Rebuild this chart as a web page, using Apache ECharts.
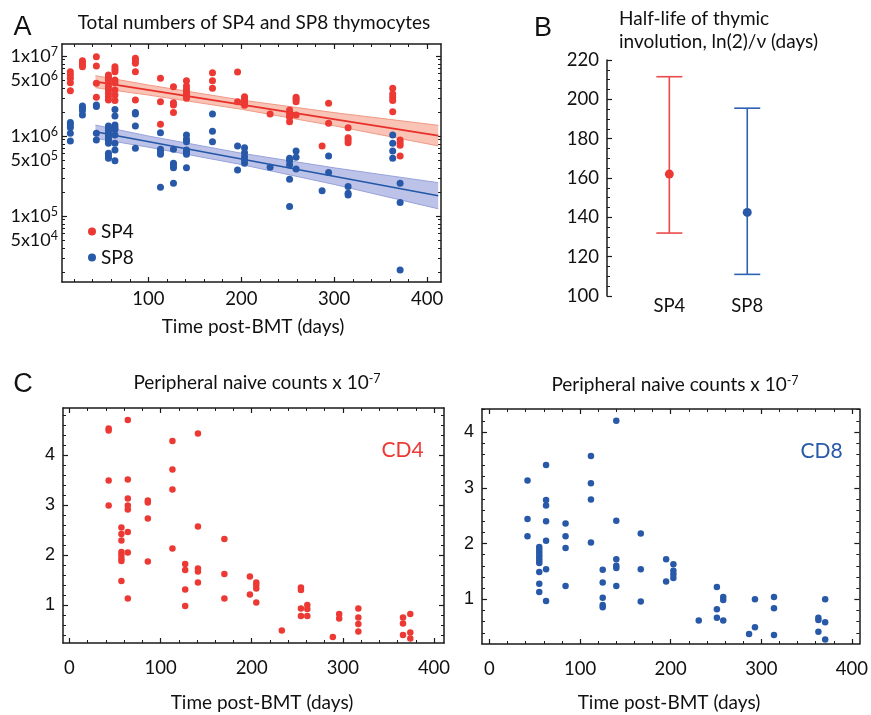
<!DOCTYPE html>
<html><head><meta charset="utf-8">
<script src="https://cdn.jsdelivr.net/npm/echarts@6/dist/echarts.min.js"></script>
<style>html,body{margin:0;padding:0;background:#fff}#c{width:871px;height:715px}</style>
</head><body><div id="c"></div>
<script>
// ---------------- DATA ----------------
// Panel A: total SP4 / SP8 thymocytes  [day, count]
const sp4Points = [
 [16,6.37e6],[16,5.79e6],[16,5.26e6],[16,4.64e6],[16,3.69e6],
 [29,8.75e6],[29,8.26e6],[29,7.8e6],[29,7.36e6],
 [44,9.8e6],[44,7.5e6],[44,4.55e6],[44,3.04e6],
 [57,5.79e6],[57,5.41e6],[57,5.01e6],[57,4.55e6],[57,4.14e6],[57,3.76e6],[57,3.42e6],[57,3.1e6],[57,2.82e6],
 [64,7.36e6],[64,6.81e6],[64,6.37e6],[64,5.01e6],[64,4.64e6],[64,3.76e6],[64,3.25e6],[64,2.77e6],
 [86,9.35e6],[86,8.75e6],[86,8.1e6],[86,6.37e6],[86,2.82e6],
 [113,5.26e6],[113,2.68e6],[113,1.4e6],
 [127,4.14e6],[127,2.61e6],[127,2.44e6],[127,1.96e6],
 [141,4.92e6],[141,4.22e6],[141,3.83e6],[141,3.58e6],[141,3.35e6],[141,3.16e6],[141,2.96e6],
 [169,6.19e6],[169,4.92e6],[169,3.94e6],
 [196,6.31e6],[196,2.68e6],
 [203.5,3.1e6],[203.5,2.9e6],[203.5,2.74e6],[203.5,2.56e6],[203.5,2.42e6],
 [231,1.88e6],
 [252,2.11e6],[252,1.98e6],[252,1.83e6],[252,1.71e6],[252,1.51e6],
 [259,3.04e6],[259,2.87e6],[259,2.68e6],[259,1.83e6],
 [287,7.5e5],
 [294,2.56e6],[294,1.44e6],
 [315,1.27e6],[315,9.53e5],[315,8.91e5],[315,8.26e5],
 [363,3.94e6],[363,3.35e6],[363,3.04e6],[363,2.77e6],[363,2.01e6],
 [371,8.91e5],[371,8.26e5],[371,7.64e5],[371,5.62e5]
];
const sp8Points = [
 [16,1.47e6],[16,1.37e6],[16,1.28e6],[16,1.08e6],[16,8.66e5],
 [29,2.37e6],[29,2.22e6],[29,2.07e6],[29,1.83e6],
 [44,2.44e6],[44,2.33e6],[44,1.08e6],[44,8.91e5],
 [57,1.33e6],[57,1.25e6],[57,1.17e6],[57,1.08e6],[57,1.0e6],[57,9.35e5],[57,8.66e5],[57,8.1e5],[57,6.07e5],[57,5.62e5],[57,5.26e5],
 [64,2.15e6],[64,1.78e6],[64,1.37e6],[64,1.28e6],[64,1.21e6],[64,1.03e6],[64,8.1e5],[64,6.68e5],[64,4.92e5],
 [86,1.96e6],[86,1.88e6],[86,1.33e6],[86,7.01e5],
 [113,1.1e6],[113,6.81e5],[113,6.37e5],[113,5.9e5],[113,2.28e5],
 [127,6.81e5],[127,4.55e5],[127,4.26e5],[127,4.02e5],[127,2.56e5],
 [141,1.03e6],[141,9.08e5],[141,8.49e5],[141,6.68e5],[141,6.25e5],[141,5.9e5],[141,4.02e5],
 [169,1.88e6],[169,1.15e6],[169,8.49e5],
 [196,7.5e5],[196,3.76e5],
 [203.5,7.15e5],[203.5,6.19e5],[203.5,5.52e5],[203.5,5.01e5],[203.5,4.55e5],
 [231,4.06e5],
 [252,5.26e5],[252,4.92e5],[252,4.34e5],[252,2.87e5],[252,1.31e5],
 [259,6.49e5],[259,5.41e5],[259,3.87e5],
 [287,2.07e5],
 [294,5.62e5],[294,3.51e5],
 [315,2.33e5],[315,1.92e5],[315,1.83e5],
 [363,1.03e6],[363,8.1e5],[363,6.49e5],[363,5.26e5],
 [371,2.56e5],[371,1.48e5],[371,2.11e4]
];
const sp4Fit = [[43,4.78e6],[412,1.01e6]];
const sp8Fit = [[43,1.13e6],[412,1.79e5]];
const bandDays  = [43, 100, 200, 300, 412];
const sp4BandHi = [5.68e6, 4.34e6, 2.82e6, 1.96e6, 1.36e6];
const sp4BandLo = [4.02e6, 3.25e6, 2.16e6, 1.34e6, 7.52e5];
const sp8BandHi = [1.37e6, 1.0e6, 6.1e5, 4.0e5, 2.61e5];
const sp8BandLo = [9.35e5, 7.25e5, 4.4e5, 2.48e5, 1.23e5];
const xTicksA = [100, 200, 300, 400];
const yTickValuesA = [1e7, 5e6, 1e6, 5e5, 1e5, 5e4];
const yTickTextA = [['1x10','7'],['5x10','6'],['1x10','6'],['5x10','5'],['1x10','5'],['5x10','4']];

// Panel B: half-life of thymic involution
const halfLifeCats = ['SP4', 'SP8'];
const halfLifeEst  = [162, 142.5];
const halfLifeLo   = [132, 111];
const halfLifeHi   = [211.5, 195.5];

// Panel C: peripheral naive counts x 1e-7  [day, count]
const cd4Points = [
 [43,4.53],[43,4.49],[43,3.49],[43,2.99],
 [57,2.55],[57,2.42],[57,2.29],[57,2.06],[57,2.0],[57,1.93],[57,1.88],[57,1.48],
 [64,4.7],[64,3.51],[64,3.13],[64,2.99],[64,2.91],[64,2.46],[64,2.05],[64,1.13],
 [86,3.09],[86,3.05],[86,2.73],[86,1.87],
 [113,4.28],[113,3.71],[113,3.31],[113,2.13],
 [127,1.82],[127,1.70],[127,1.31],[127,0.98],
 [141,4.43],[141,2.57],[141,1.73],[141,1.67],[141,1.45],
 [170,2.32],[170,1.62],[170,1.13],
 [198,1.57],[198,1.21],
 [205,1.45],[205,1.4],[205,1.33],[205,1.05],
 [233,0.49],
 [254,1.35],[254,1.3],[254,0.93],[254,0.78],
 [261,1.0],[261,0.92],[261,0.78],
 [289,0.36],
 [296,0.82],[296,0.73],
 [317,0.93],[317,0.75],[317,0.62],[317,0.47],
 [366,0.75],[366,0.63],[366,0.4],
 [374,0.82],[374,0.45],[374,0.33]
];
const cd8Points = [
 [42,3.13],[42,2.44],[42,2.13],
 [55,1.94],[55,1.89],[55,1.84],[55,1.79],[55,1.74],[55,1.69],[55,1.65],[55,1.49],[55,1.28],[55,1.13],
 [62.5,3.41],[62.5,2.78],[62.5,2.68],[62.5,2.4],[62.5,2.05],[62.5,1.54],[62.5,0.97],
 [84,2.36],[84,2.13],[84,1.92],[84,1.24],
 [112,3.57],[112,3.08],[112,2.79],[112,2.02],
 [125,1.53],[125,1.3],[125,1.03],[125,0.9],[125,0.86],
 [140,4.2],[140,2.41],[140,1.72],[140,1.6],[140,1.56],[140,1.24],
 [167,2.18],[167,1.54],[167,0.96],
 [195,1.72],[195,1.32],
 [203,1.63],[203,1.51],[203,1.45],[203,1.38],
 [231,0.62],
 [251,1.22],[251,0.82],[251,0.67],
 [258,1.04],[258,0.99],[258,0.62],
 [286.5,0.38],
 [293,1.0],[293,0.5],
 [314,1.04],[314,0.84],[314,0.36],
 [363,0.67],[363,0.63],[363,0.42],
 [370.5,1.0],[370.5,0.59],[370.5,0.28]
];
const xTicksC = [0, 100, 200, 300, 400];
const yTicksC = [1, 2, 3, 4];

// ---------------- CHART ----------------
const RED = '#EC3934', BLUE = '#2859A8', INK = '#1a1a1a', TXT = '#111';
const L = v => Math.log10(v);
const chart = echarts.init(document.getElementById('c'), null, {renderer: 'canvas'});

function steps(a, b, s, skip) {
  const out = [];
  for (let v = a; v <= b + 1e-9; v += s) {
    const r = Math.round(v * 1000) / 1000;
    if (!skip || !skip.some(t => Math.abs(t - r) < 1e-9)) out.push(r);
  }
  return out;
}
const xAxes = [], yAxes = [];
function side(list, gi, pos, min, max, majors, minors, label) {
  const main = {
    type: 'value', gridIndex: gi, position: pos, min, max,
    axisLine: {show: true, onZero: false, lineStyle: {color: INK, width: 1.5}},
    axisTick: {show: true, inside: true, length: 5, customValues: majors, lineStyle: {color: INK, width: 1.2}},
    axisLabel: label ? Object.assign({show: true}, label) : {show: false},
    splitLine: {show: false}
  };
  list.push(main);
  const idx = list.length - 1;
  if (minors && minors.length) list.push({
    type: 'value', gridIndex: gi, position: pos, min, max,
    axisLine: {show: false, onZero: false},
    axisTick: {show: true, inside: true, length: 3, customValues: minors, lineStyle: {color: INK, width: 1}},
    axisLabel: {show: false}, splitLine: {show: false}
  });
  return idx;
}
const numLabel = (size, margin) => ({fontFamily: 'Lato', fontSize: size, color: TXT, margin});

// Panel A axes (grid 0)
const aXmin = 7, aXmax = 415, aYmin = 4.175, aYmax = 7.15;
const aXminor = steps(20, 400, 20, xTicksA);
const aYmajor = [5, 6, 7];
const aYminor = [];
for (let n = 4; n <= 7; n++) for (let k = 2; k <= 9; k++) { const v = L(k * Math.pow(10, n)); if (v > aYmin && v < aYmax) aYminor.push(v); }
const axAx = side(xAxes, 0, 'bottom', aXmin, aXmax, xTicksA, aXminor,
  Object.assign(numLabel(18.5, 8), {customValues: xTicksA}));
side(xAxes, 0, 'top', aXmin, aXmax, xTicksA, aXminor, null);
const axAy = side(yAxes, 0, 'left', aYmin, aYmax, aYmajor, aYminor, {
  customValues: yTickValuesA.map(L), margin: 4,
  formatter: val => {
    const i = yTickValuesA.findIndex(t => Math.abs(L(t) - val) < 1e-6);
    return i < 0 ? '' : '{b|' + yTickTextA[i][0] + '}{s|' + yTickTextA[i][1] + '}';
  },
  rich: {
    b: {fontFamily: 'Lato', fontSize: 18, color: TXT, lineHeight: 21},
    s: {fontFamily: 'Lato', fontSize: 12.5, color: TXT, lineHeight: 12, verticalAlign: 'top'}
  }
});
side(yAxes, 0, 'right', aYmin, aYmax, aYmajor, aYminor, null);

// Panel B axes (grid 1)
xAxes.push({type: 'value', gridIndex: 1, min: 0.2, max: 2.6, position: 'bottom',
  axisLine: {show: false, onZero: false}, axisTick: {show: false}, splitLine: {show: false},
  axisLabel: Object.assign(numLabel(18.5, 1), {customValues: [1, 2], formatter: v => halfLifeCats[Math.round(v) - 1]})});
const axBx = xAxes.length - 1;
yAxes.push({type: 'value', gridIndex: 1, min: 100, max: 220, interval: 20, position: 'left',
  axisLine: {show: true, onZero: false, lineStyle: {color: INK, width: 1.5}},
  axisTick: {show: true, inside: true, length: 5, lineStyle: {color: INK, width: 1.2}},
  minorTick: {show: true, splitNumber: 4, length: 3, lineStyle: {color: INK, width: 1}},
  axisLabel: numLabel(18.5, 8), splitLine: {show: false}, minorSplitLine: {show: false}});
const axBy = yAxes.length - 1;

// Panel C axes (grids 2,3)
function panelC(gi, xmin, xmax, ymin, ymax) {
  const xm = steps(20, 400, 20, xTicksC);
  const ym = steps(0.2, 4.8, 0.2, yTicksC).filter(v => v > ymin + 0.01 && v < ymax - 0.01);
  const xi = side(xAxes, gi, 'bottom', xmin, xmax, xTicksC, xm, Object.assign(numLabel(18.5, 16), {customValues: xTicksC}));
  side(xAxes, gi, 'top', xmin, xmax, xTicksC, xm, null);
  const yi = side(yAxes, gi, 'left', ymin, ymax, yTicksC, ym,
    Object.assign({fontFamily: 'Liberation Sans', fontSize: 18, color: TXT, margin: 8}, {customValues: yTicksC}));
  side(yAxes, gi, 'right', ymin, ymax, yTicksC, ym, null);
  return [xi, yi];
}
const [axC1x, axC1y] = panelC(2, -7.1, 411, 0.24, 4.94);
const [axC2x, axC2y] = panelC(3, -8.2, 408.2, 0.199, 4.412);

const logPts = arr => arr.map(p => [p[0], L(p[1])]);
// confidence band drawn as one polygon through the axis scales
const bandSeries = (lo, hi, edge, fill) => ({
  type: 'custom', xAxisIndex: axAx, yAxisIndex: axAy, silent: true, z: 1,
  data: [[bandDays[0], L(lo[0])]],
  renderItem: (params, api) => {
    const up = bandDays.map((d, i) => api.coord([d, L(hi[i])]));
    const dn = bandDays.map((d, i) => api.coord([d, L(lo[i])]));
    return {type: 'group', children: [
      {type: 'polygon', shape: {points: up.concat(dn.slice().reverse())}, style: {fill: fill, stroke: null}},
      {type: 'polyline', shape: {points: up}, style: {stroke: edge, lineWidth: 1, fill: null}},
      {type: 'polyline', shape: {points: dn}, style: {stroke: edge, lineWidth: 1, fill: null}}
    ]};
  }
});

const series = [
  bandSeries(sp4BandLo, sp4BandHi, '#F09A86', '#F9C3B5'),
  bandSeries(sp8BandLo, sp8BandHi, '#97A2DA', '#BDC3E8'),
  {type: 'line', xAxisIndex: axAx, yAxisIndex: axAy, data: logPts(sp4Fit), symbol: 'none', z: 2,
   lineStyle: {color: '#E8302A', width: 1.6}},
  {type: 'line', xAxisIndex: axAx, yAxisIndex: axAy, data: logPts(sp8Fit), symbol: 'none', z: 2,
   lineStyle: {color: '#2257A8', width: 1.6}},
  {type: 'scatter', name: 'SP4', xAxisIndex: axAx, yAxisIndex: axAy, data: logPts(sp4Points), symbolSize: 7,
   itemStyle: {color: RED, opacity: 1}, z: 3},
  {type: 'scatter', name: 'SP8', xAxisIndex: axAx, yAxisIndex: axAy, data: logPts(sp8Points), symbolSize: 7,
   itemStyle: {color: BLUE, opacity: 1}, z: 3},
  // Panel B
  {type: 'custom', xAxisIndex: axBx, yAxisIndex: axBy,
   data: halfLifeCats.map((c, i) => [i + 1, halfLifeLo[i], halfLifeHi[i]]),
   renderItem: (params, api) => {
     const x = api.value(0);
     const lo = api.coord([x, api.value(1)]), hi = api.coord([x, api.value(2)]);
     const col = params.dataIndex === 0 ? '#EA4A4A' : '#2E62B2';
     const st = {stroke: col, lineWidth: 1.6};
     const w = 13;
     return {type: 'group', children: [
       {type: 'line', shape: {x1: lo[0], y1: lo[1], x2: hi[0], y2: hi[1]}, style: st},
       {type: 'line', shape: {x1: lo[0] - w, y1: lo[1], x2: lo[0] + w, y2: lo[1]}, style: st},
       {type: 'line', shape: {x1: hi[0] - w, y1: hi[1], x2: hi[0] + w, y2: hi[1]}, style: st}
     ]};
   }},
  {type: 'scatter', xAxisIndex: axBx, yAxisIndex: axBy, symbolSize: 9, z: 3,
   data: halfLifeCats.map((c, i) => ({value: [i + 1, halfLifeEst[i]], itemStyle: {color: i === 0 ? RED : BLUE, opacity: 1}}))},
  // Panel C
  {type: 'scatter', xAxisIndex: axC1x, yAxisIndex: axC1y, data: cd4Points, symbolSize: 6.5, itemStyle: {color: RED, opacity: 1}},
  {type: 'scatter', xAxisIndex: axC2x, yAxisIndex: axC2y, data: cd8Points, symbolSize: 6.5, itemStyle: {color: BLUE, opacity: 1}}
];

const txt = (x, y, text, size, opts) => Object.assign({
  type: 'text', x, y, silent: true,
  style: Object.assign({text, fontFamily: 'Lato', fontSize: size, fill: TXT, align: 'center', verticalAlign: 'middle'}, opts || {})
});
const supRich = {
  a: {fontFamily: 'Lato', fontSize: 19, fill: TXT, color: TXT, lineHeight: 22},
  s: {fontFamily: 'Lato', fontSize: 12.5, fill: TXT, color: TXT, lineHeight: 12, verticalAlign: 'top'}
};

chart.setOption({
  animation: false,
  backgroundColor: '#fff',
  grid: [
    {left: 62, top: 44, width: 379, height: 238},
    {left: 607, top: 60, width: 187, height: 236},
    {left: 63, top: 408, width: 381, height: 235},
    {left: 482, top: 409, width: 381, height: 235}
  ],
  xAxis: xAxes,
  yAxis: yAxes,
  legend: {data: ['SP4', 'SP8'], orient: 'vertical', left: 83, top: 217, itemWidth: 8, itemHeight: 8, itemGap: 7,
    selectedMode: false, textStyle: {fontFamily: 'Lato', fontSize: 19, color: TXT}},
  series,
  graphic: [
    txt(22.5, 28, 'A', 27, {fontFamily: 'Liberation Sans'}),
    txt(543, 29, 'B', 27, {fontFamily: 'Liberation Sans'}),
    txt(23, 385, 'C', 27, {fontFamily: 'Liberation Sans'}),
    txt(254, 23, 'Total numbers of SP4 and SP8 thymocytes', 19),
    txt(619, 19, 'Half-life of thymic', 19, {align: 'left'}),
    txt(619, 42, 'involution, ln(2)/\u03BD (days)', 19, {align: 'left'}),
    txt(253, 327, 'Time post-BMT (days)', 19),
    txt(257, 383, '{a|Peripheral naive counts x 10}{s|-7}', 19, {rich: supRich}),
    txt(675, 385, '{a|Peripheral naive counts x 10}{s|-7}', 19, {rich: supRich}),
    txt(402.5, 450, 'CD4', 21, {fill: RED}),
    txt(821.5, 451, 'CD8', 21, {fill: BLUE}),
    txt(262, 703, 'Time post-BMT (days)', 19),
    txt(669, 703, 'Time post-BMT (days)', 19)
  ]
});
</script></body></html>
